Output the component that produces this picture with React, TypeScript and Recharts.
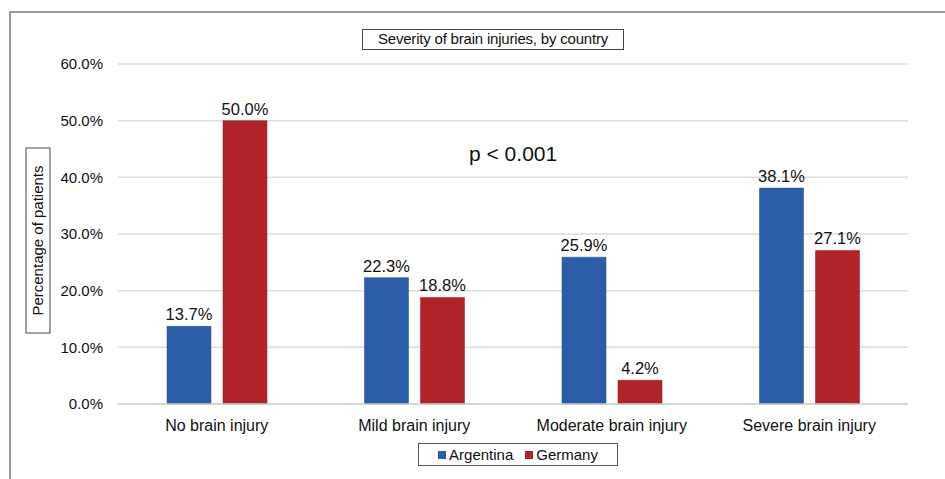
import React from 'react';
import {
  BarChart,
  Bar,
  XAxis,
  YAxis,
  CartesianGrid,
  LabelList,
} from 'recharts';

const categories = [
  'No brain injury',
  'Mild brain injury',
  'Moderate brain injury',
  'Severe brain injury',
];
const argentina = [13.7, 22.3, 25.9, 38.1];
const germany = [50.0, 18.8, 4.2, 27.1];
const yTicks = [0, 10, 20, 30, 40, 50, 60];

const BLUE = '#2b5da9';
const RED = '#b1242a';
const FONT = '"Liberation Sans", Arial, sans-serif';

const data = categories.map((name, i) => ({
  name,
  argentina: argentina[i],
  germany: germany[i],
}));

const pct = (v: number) => `${v.toFixed(1)}%`;

const LegendBox = () => (
  <div
    style={{
      position: 'absolute',
      left: 418,
      top: 443,
      width: 200,
      height: 23,
      boxSizing: 'border-box',
      display: 'flex',
      alignItems: 'center',
      justifyContent: 'center',
      border: '1.5px solid #555',
      fontSize: 15,
      color: '#111',
      background: '#fff',
    }}
  >
    <span style={{ width: 8, height: 8, background: BLUE, display: 'inline-block', marginRight: 3 }} />
    <span style={{ marginRight: 12 }}>Argentina</span>
    <span style={{ width: 8, height: 8, background: RED, display: 'inline-block', marginRight: 3 }} />
    <span>Germany</span>
  </div>
);

export default function App() {
  return (
    <div style={{ position: 'absolute', left: 0, top: 0, width: 945, height: 479, background: '#fff', fontFamily: FONT }}>
      {/* frame */}
      <div style={{ position: 'absolute', left: 9, top: 11, right: 0, bottom: 0, borderTop: '2px solid #9a9a9a', borderLeft: '2px solid #9a9a9a' }} />
      {/* title */}
      <div
        style={{
          position: 'absolute',
          left: 362,
          top: 29,
          width: 262,
          height: 21,
          boxSizing: 'border-box',
          border: '1.5px solid #444',
          fontSize: 15,
          lineHeight: '18px',
          textAlign: 'center',
          color: '#111',
          whiteSpace: 'nowrap',
          letterSpacing: -0.2,
        }}
      >
        Severity of brain injuries, by country
      </div>
      {/* y axis label */}
      <div
        style={{
          position: 'absolute',
          left: 38 - 93,
          top: 240 - 12,
          width: 186,
          height: 25,
          border: '1.5px solid #444',
          transform: 'rotate(-90deg)',
          fontSize: 15,
          lineHeight: '22px',
          textAlign: 'center',
          color: '#111',
          boxSizing: 'border-box',
          whiteSpace: 'nowrap',
        }}
      >
        Percentage of patients
      </div>
      {/* p value */}
      <div style={{ position: 'absolute', left: 469, top: 142, fontSize: 21, color: '#111' }}>p &lt; 0.001</div>

      <BarChart
        width={945}
        height={479}
        data={data}
        margin={{ top: 64, right: 37, bottom: 45, left: 0 }}
        barGap={12}
        barCategoryGap={49}
      >
        <CartesianGrid vertical={false} stroke="#dcdcdc" strokeWidth={1.5} />
        <XAxis
          dataKey="name"
          height={30}
          axisLine={{ stroke: '#cfcfcf', strokeWidth: 1.5 }}
          tickLine={false}
          tick={{ fill: '#111', fontSize: 16, fontFamily: FONT }}
          tickMargin={10}
        />
        <YAxis
          width={118}
          domain={[0, 60]}
          ticks={yTicks}
          axisLine={false}
          tickLine={false}
          tickSize={8}
          tickMargin={7}
          tickFormatter={pct}
          tick={{ fill: '#111', fontSize: 15, fontFamily: FONT }}
        />
        <Bar dataKey="argentina" name="Argentina" fill={BLUE} stroke="#1f4a8a" strokeWidth={0.5} isAnimationActive={false}>
          <LabelList dataKey="argentina" position="top" offset={6} formatter={(v: any) => pct(Number(v))} fill="#111" fontSize={16.5} fontFamily={FONT} />
        </Bar>
        <Bar dataKey="germany" name="Germany" fill={RED} stroke="#8a1a1e" strokeWidth={0.5} isAnimationActive={false}>
          <LabelList dataKey="germany" position="top" offset={6} formatter={(v: any) => pct(Number(v))} fill="#111" fontSize={16.5} fontFamily={FONT} />
        </Bar>
      </BarChart>
      <LegendBox />
    </div>
  );
}
